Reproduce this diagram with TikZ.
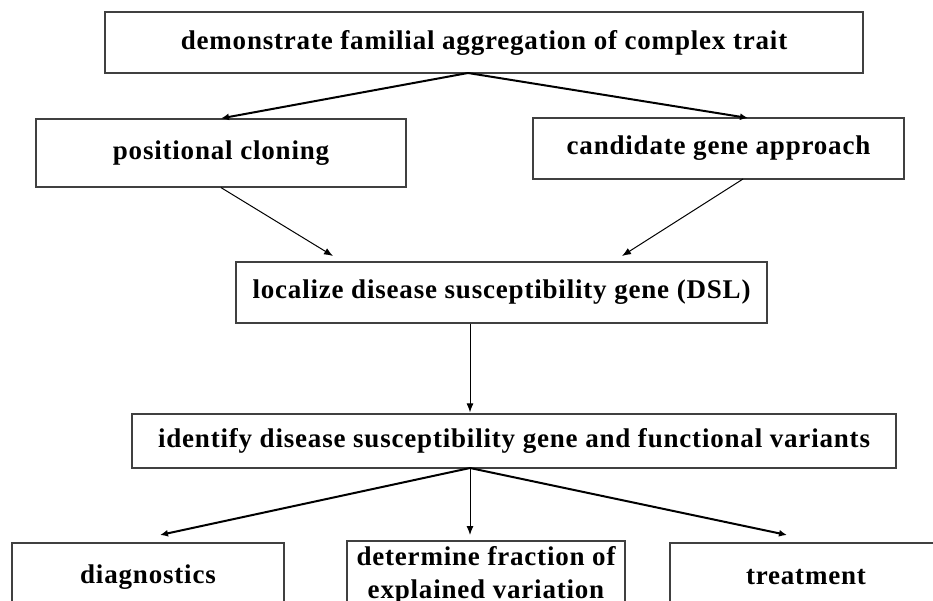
\documentclass[tikz,border=0pt]{standalone}
\usepackage{fontspec}
\setmainfont{Liberation Serif}[LetterSpace=3]
\usetikzlibrary{arrows.meta, calc}

\begin{document}
\begin{tikzpicture}[x=1pt, y=-1pt,
        box/.style={draw=black!75, line width=1.2pt, align=center, inner sep=0pt,
                font=\fontsize{27}{33}\selectfont\bfseries},
        fork/.style={-{Latex[length=8pt,width=7pt]}, line width=2pt},
        link/.style={-{Latex[length=9pt,width=7pt]}, line width=1pt}]
        \useasboundingbox (0,0) rectangle (933,601);
        \clip (0,0) rectangle (933,601);
        % boxes
        \node[box, minimum width=758pt, minimum height=61pt] (trait) at (484,42.5) {demonstrate familial aggregation of complex trait};
        \node[box, minimum width=370pt, minimum height=68pt] (pos) at (221,153) {positional cloning};
        \node[box, minimum width=371pt, minimum height=61pt] (cand) at (718.5,148.5) {candidate gene approach};
        \node[box, minimum width=531pt, minimum height=61pt] (loc) at (501.5,292.5) {localize disease susceptibility gene (DSL)};
        \node[box, minimum width=764pt, minimum height=54pt] (ident) at (514,441) {identify disease susceptibility gene and functional variants};
        \node[box, minimum width=272pt, minimum height=68pt] (diag) at (148,577) {diagnostics};
        \node[box, minimum width=278pt, minimum height=68pt] (det) at (486,575) {determine fraction of\\explained variation};
        \node[box, minimum width=272pt, minimum height=68pt] (treat) at (806,577) {treatment};
        % arrow ends
        \coordinate (traitfork) at (468,73);
        \coordinate (candtip) at (748,118);
        \coordinate (candout) at (743,179);
        \coordinate (loctipL) at (333,256);
        \coordinate (loctipR) at (622,256);
        \coordinate (identfork) at (470,468);
        \coordinate (diagtip) at (160,535);
        \coordinate (dettip) at (470,535);
        \coordinate (treattip) at (787,535);
        % connectors
        \draw [fork] (traitfork) -- (pos.north);
        \draw [fork] (traitfork) -- (candtip);
        \draw [link] (pos.south) -- (loctipL);
        \draw [link] (candout) -- (loctipR);
        \draw [link] (loc.south -| identfork) -- ($(ident.north -| identfork)+(0,-1)$);
        \draw [fork] (identfork) -- (diagtip);
        \draw [link] (identfork) -- (dettip);
        \draw [fork] (identfork) -- (treattip);
\end{tikzpicture}
\end{document}
